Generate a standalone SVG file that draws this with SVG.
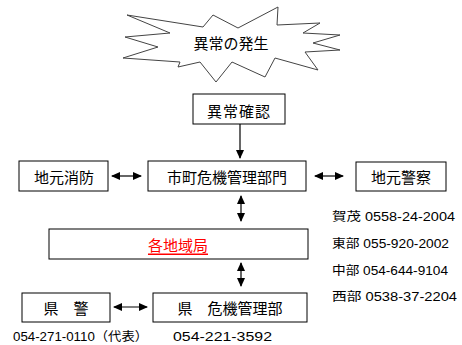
<svg xmlns="http://www.w3.org/2000/svg" width="462" height="345" viewBox="0 0 462 345">
<style>
.box{fill:#fff;stroke:#000;stroke-width:1}
.t{font-family:"Liberation Sans","Noto Sans CJK JP",sans-serif;font-size:15px;fill:#000;dominant-baseline:central;text-anchor:middle}
.s{font-family:"Liberation Sans","Noto Sans CJK JP",sans-serif;font-size:12.5px;fill:#000;dominant-baseline:central}
.c{stroke:#000;stroke-width:1.2;fill:none}
</style>
<defs>
<marker id="ah" markerUnits="userSpaceOnUse" markerWidth="9" markerHeight="8" refX="8" refY="4" orient="auto-start-reverse">
<path d="M0,0 L9,4 L0,8 Z" fill="#000"/>
</marker>
</defs>
<rect width="462" height="345" fill="#fff"/>
<g id="star">
<polygon fill="#fff" stroke="#444" stroke-width="1" points="127,15 203,27 213,15 238,28 278,7 277,25 320,23 303,33 340,35 313,43 340,50 305,52 318,70 275,58 265,77 232,62 216,82 200,62 178,67 180,62 123,58 158,47 125,37 170,33"/>
<text class="t" x="231" y="43">異常の発生</text>
</g>
<g id="ijou-kakunin">
<rect class="box" x="193" y="94" width="92" height="30"/>
<text class="t" x="239" y="111" letter-spacing="1">異常確認</text>
</g>
<g id="shicho">
<rect class="box" x="148" y="161" width="158" height="30"/>
<text class="t" x="227" y="177">市町危機管理部門</text>
</g>
<g id="shoubou">
<rect class="box" x="19" y="161" width="89" height="30"/>
<text class="t" x="64" y="177">地元消防</text>
</g>
<g id="keisatsu">
<rect class="box" x="356" y="162" width="90" height="29"/>
<text class="t" x="401" y="177">地元警察</text>
</g>
<g id="chiikikyoku">
<rect class="box" x="49" y="229" width="259" height="30"/>
<text class="t" x="178" y="245" fill="#f00" style="fill:#f00" text-decoration="underline">各地域局</text>
</g>
<g id="kenkei">
<rect class="box" x="22" y="293" width="88" height="29"/>
<text class="t" x="66" y="308">県　警</text>
</g>
<g id="kenkiki">
<rect class="box" x="153" y="293" width="154" height="29"/>
<text class="t" x="230" y="308">県　危機管理部</text>
</g>
<g id="connectors">
<line class="c" x1="240" y1="124" x2="240" y2="158" marker-end="url(#ah)"/>
<line class="c" x1="112" y1="176" x2="141" y2="176" marker-start="url(#ah)" marker-end="url(#ah)"/>
<line class="c" x1="315" y1="176" x2="343" y2="176" marker-start="url(#ah)" marker-end="url(#ah)"/>
<line class="c" x1="241" y1="196" x2="241" y2="221" marker-start="url(#ah)" marker-end="url(#ah)"/>
<line class="c" x1="241" y1="263" x2="241" y2="286" marker-start="url(#ah)" marker-end="url(#ah)"/>
<line class="c" x1="114" y1="307" x2="147" y2="307" marker-start="url(#ah)" marker-end="url(#ah)"/>
</g>
<g id="phones">
<text class="s" x="332" y="217" textLength="123" lengthAdjust="spacingAndGlyphs">賀茂 0558-24-2004</text>
<text class="s" x="332" y="244" textLength="117" lengthAdjust="spacingAndGlyphs">東部 055-920-2002</text>
<text class="s" x="332" y="271" textLength="116" lengthAdjust="spacingAndGlyphs">中部 054-644-9104</text>
<text class="s" x="332" y="297" textLength="125" lengthAdjust="spacingAndGlyphs">西部  0538-37-2204</text>
<text class="s" x="13" y="337" textLength="135" lengthAdjust="spacingAndGlyphs">054-271-0110（代表）</text>
<text class="s" x="173" y="337" textLength="99" lengthAdjust="spacingAndGlyphs">054-221-3592</text>
</g>
</svg>
